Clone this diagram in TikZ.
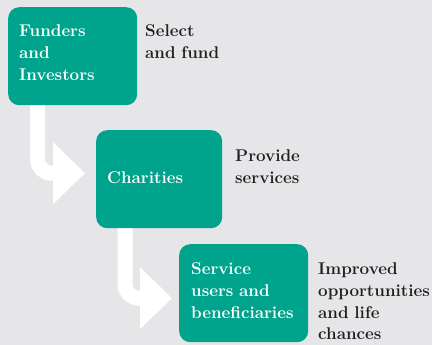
\documentclass[tikz,border=0pt]{standalone}
\usetikzlibrary{arrows.meta}
\definecolor{boxteal}{HTML}{00A38C}
\definecolor{bgrey}{HTML}{E6E6E8}
\definecolor{ink}{HTML}{231F20}
\begin{document}
\begin{tikzpicture}[x=1pt,y=-1pt,
  box/.style={fill=boxteal, draw=none, rounded corners=11pt, inner sep=0pt, anchor=north west},
  intext/.style={text=white, font=\fontsize{17}{22}\selectfont\bfseries, text width=125pt, align=left, inner sep=0pt, anchor=base west},
  outtext/.style={text=ink, font=\fontsize{17}{22}\selectfont\bfseries, text width=125pt, align=left, inner sep=0pt, anchor=base west},
  flow/.style={draw=white, line width=15pt, rounded corners=14pt, -{Triangle[width=60pt,length=32pt]}}]
\fill[bgrey] (0,0) rectangle (432,345);
\useasboundingbox (0,0) rectangle (432,345);
\node[box, minimum width=129pt, minimum height=98pt] (b1) at (8,7) {};
\node[box, minimum width=126pt, minimum height=98pt] (b2) at (96,130) {};
\node[box, minimum width=129pt, minimum height=98pt] (b3) at (179,244) {};
\draw[flow, shorten >=11pt] ([xshift=29.5pt]b1.south west) |- ([yshift=6pt]b2.west);
\draw[flow, shorten >=7pt] ([xshift=29pt]b2.south west) |- ([yshift=-5pt]b3.west);
\node[intext] (t1) at (19,37) {Funders\\and\\Investors};
\node[intext] (t2) at (107,183) {Charities};
\node[intext] (t3) at (191,274) {Service\\users and\\beneficiaries};
\node[outtext] (o1) at (145,37) {Select\\and fund};
\node[outtext] (o2) at (235,161) {Provide\\services};
\node[outtext] (o3) at (318,274) {Improved\\opportunities\\and life\\chances};
\end{tikzpicture}
\end{document}
